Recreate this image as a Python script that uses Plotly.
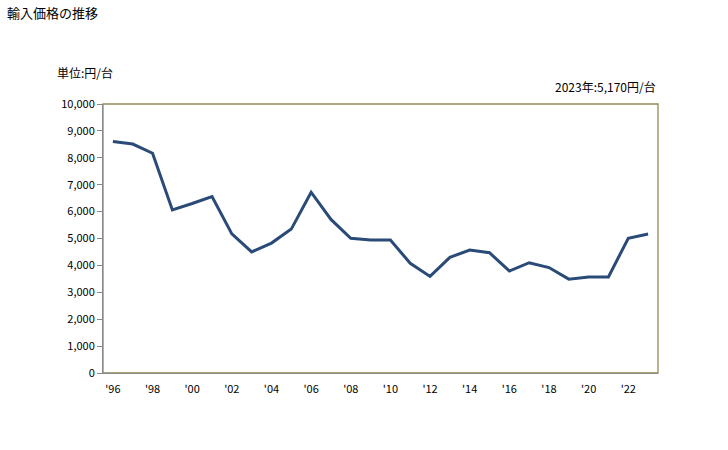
import plotly.graph_objects as go

years = list(range(1996, 2024))
values = [8610, 8510, 8170, 6060, 6300, 6560, 5170, 4500, 4830, 5350,
          6720, 5710, 5010, 4940, 4940, 4080, 3590, 4300, 4570, 4470,
          3790, 4100, 3920, 3490, 3570, 3570, 5010, 5170]
tick_years = list(range(1996, 2024, 2))
tick_labels = ["'" + str(y)[2:] for y in tick_years]
y_ticks = list(range(0, 10001, 1000))
y_labels = [f"{v:,}" for v in y_ticks]

font = "Noto Sans CJK JP, sans-serif"

fig = go.Figure()
fig.add_trace(go.Scatter(
    x=[str(y) for y in years], y=values, mode="lines",
    line=dict(color="#2a4a78", width=3), hoverinfo="skip"))

fig.update_layout(
    width=728, height=450,
    margin=dict(l=103, r=70, t=104, b=77),
    paper_bgcolor="white", plot_bgcolor="white",
    showlegend=False,
    font=dict(family=font, size=11, color="#000000"),
    shapes=[dict(type="rect", xref="paper", yref="paper", x0=0, x1=1, y0=0, y1=1,
                 line=dict(color="#948a54", width=1.3), layer="below")],
    annotations=[
        dict(text="輸入価格の推移", xref="paper", yref="paper", x=-98/555, y=1 + 92/269,
             xanchor="left", yanchor="middle", showarrow=False, font=dict(size=13)),
        dict(text="単位:円/台", xref="paper", yref="paper", x=-48/555, y=1 + 31/269,
             xanchor="left", yanchor="middle", showarrow=False, font=dict(size=12)),
        dict(text="2023年:5,170円/台", xref="paper", yref="paper", x=1, y=1 + 18/269,
             xanchor="right", yanchor="middle", showarrow=False, font=dict(size=12)),
    ],
)
fig.update_xaxes(
    type="category", tickvals=[str(y) for y in tick_years], ticktext=tick_labels,
    range=[-0.5, len(years) - 0.5],
    showgrid=False, showline=True, linecolor="#888888", linewidth=1,
    ticks="", tickfont=dict(size=11), ticklabelstandoff=6, zeroline=False)
fig.update_yaxes(
    range=[0, 10000], tickvals=y_ticks, ticktext=y_labels,
    showgrid=False, showline=True, linecolor="#888888", linewidth=1,
    ticks="outside", ticklen=5, tickcolor="#888888", tickfont=dict(size=11),
    zeroline=False)

fig.write_html("out.html", config={"displayModeBar": False},
               post_script="document.body.style.margin='0';")
